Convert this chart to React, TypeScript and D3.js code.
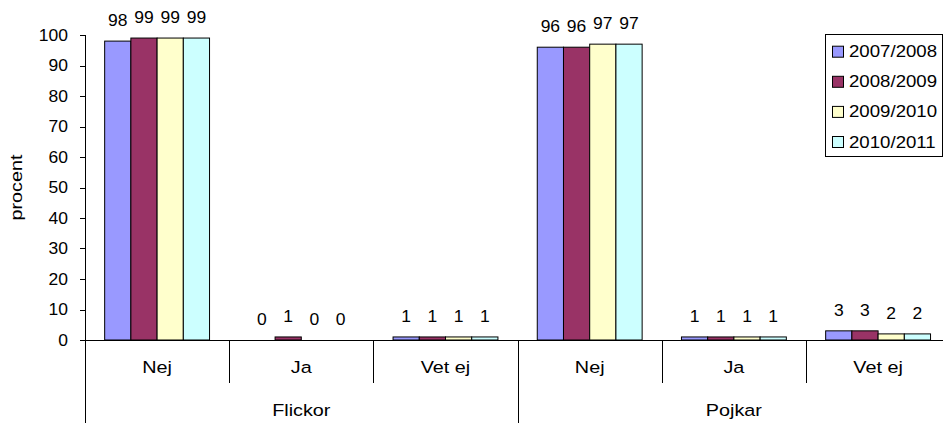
import React from "react";
import * as d3 from "d3";

const groups = ["Flickor", "Pojkar"];
const answers = ["Nej", "Ja", "Vet ej"];
const series = ["2007/2008", "2008/2009", "2009/2010", "2010/2011"];
const colors = ["#9999FF", "#993366", "#FFFFCC", "#CCFFFF"];
// values per category (group x answer), per series
const flickorNej = [98, 99, 99, 99];
const flickorJa = [0, 1, 0, 0];
const flickorVetEj = [1, 1, 1, 1];
const pojkarNej = [96, 96, 97, 97];
const pojkarJa = [1, 1, 1, 1];
const pojkarVetEj = [3, 3, 2, 2];
const yTicks = [0, 10, 20, 30, 40, 50, 60, 70, 80, 90, 100];

const categories = [
  { group: groups[0], answer: answers[0], values: flickorNej },
  { group: groups[0], answer: answers[1], values: flickorJa },
  { group: groups[0], answer: answers[2], values: flickorVetEj },
  { group: groups[1], answer: answers[0], values: pojkarNej },
  { group: groups[1], answer: answers[1], values: pojkarJa },
  { group: groups[1], answer: answers[2], values: pojkarVetEj },
];

const W = 943;
const H = 423;
const FONT = "'Liberation Sans', Arial, sans-serif";
const FS = 16.5;
const SX_NUM = 1.06;
const SX_LEG = 1.13;
const SX_WORD = 1.2;

export default function App() {
  const x0 = 85;
  const catW = 144.2;
  const xCat = d3
    .scaleBand<number>()
    .domain(categories.map((_, i) => i))
    .range([x0, x0 + catW * categories.length])
    .paddingInner(0)
    .paddingOuter(0);
  const xSer = d3
    .scaleBand<string>()
    .domain(series)
    .range([0, xCat.bandwidth()])
    .paddingInner(0)
    .paddingOuter(0.75);
  const y = d3.scaleLinear().domain([0, 100]).range([340, 35]);
  const y0 = y(0);

  const txt = (
    x: number,
    yy: number,
    s: string,
    anchor: "start" | "middle" | "end",
    sx: number
  ) => (
    <text
      transform={`translate(${x},${yy}) scale(${sx},1)`}
      textAnchor={anchor}
      fontFamily={FONT}
      fontSize={FS}
      fill="#000"
    >
      {s}
    </text>
  );

  const groupBounds = [0, 3, 6];

  return (
    <svg
      width={W}
      height={H}
      style={{ position: "absolute", left: 0, top: 0, background: "#fff" }}
    >
      <rect x={0} y={0} width={W} height={H} fill="#fff" />
      {/* bars */}
      {categories.map((c, ci) =>
        c.values.map((v, si) => {
          const bx = (xCat(ci) as number) + (xSer(series[si]) as number);
          const bw = xSer.bandwidth();
          const top = y(v);
          return (
            <g key={`b${ci}-${si}`}>
              {v > 0 && (
                <rect
                  x={bx}
                  y={top}
                  width={bw}
                  height={y0 - top}
                  fill={colors[si]}
                  stroke="#000"
                  strokeWidth={1}
                />
              )}
              {txt(bx + bw / 2, top - 15, String(v), "middle", SX_NUM)}
            </g>
          );
        })
      )}
      {/* y axis */}
      <line x1={85.5} x2={85.5} y1={y(100)} y2={H} stroke="#000" />
      {yTicks.map((t) => (
        <g key={`t${t}`}>
          <line x1={80} x2={85.5} y1={Math.round(y(t)) + 0.5} y2={Math.round(y(t)) + 0.5} stroke="#000" />
          {txt(68, y(t) + 5.8, String(t), "end", SX_NUM)}
        </g>
      ))}
      {/* x axis */}
      <line x1={80} x2={W} y1={Math.round(y0) + 0.5} y2={Math.round(y0) + 0.5} stroke="#000" />
      {categories.map((c, ci) => {
        const cx = xCat(ci) as number;
        return (
          <g key={`c${ci}`}>
            {ci > 0 && !groupBounds.includes(ci) && (
              <line x1={Math.round(cx) + 0.5} x2={Math.round(cx) + 0.5} y1={y0} y2={383} stroke="#000" />
            )}
            {txt(cx + xCat.bandwidth() / 2, 373, c.answer, "middle", SX_WORD)}
          </g>
        );
      })}
      {groupBounds.map((gi) => {
        const gx = gi < categories.length ? (xCat(gi) as number) : (xCat.range()[1] as number);
        return (
          <line key={`g${gi}`} x1={Math.round(gx) + 0.5} x2={Math.round(gx) + 0.5} y1={y0} y2={H} stroke="#000" />
        );
      })}
      {groups.map((g, gi) => {
        const start = xCat(gi * 3) as number;
        const mid = start + (xCat.bandwidth() * 3) / 2;
        return <g key={`gl${gi}`}>{txt(mid, 415.5, g, "middle", SX_WORD)}</g>;
      })}
      {/* y label */}
      <text
        transform={`translate(22,187.5) rotate(-90) scale(${SX_WORD},1)`}
        textAnchor="middle"
        fontFamily={FONT}
        fontSize={FS}
      >
        procent
      </text>
      {/* legend */}
      <rect x={825.5} y={34.5} width={117} height={122} fill="#fff" stroke="#000" />
      {series.map((s, si) => {
        const cy = 51.7 + si * 30.1;
        return (
          <g key={`l${si}`}>
            <rect x={832.5} y={cy - 5.5} width={11} height={11} fill={colors[si]} stroke="#000" />
            {txt(849, cy + 5.5, s, "start", SX_LEG)}
          </g>
        );
      })}
    </svg>
  );
}
